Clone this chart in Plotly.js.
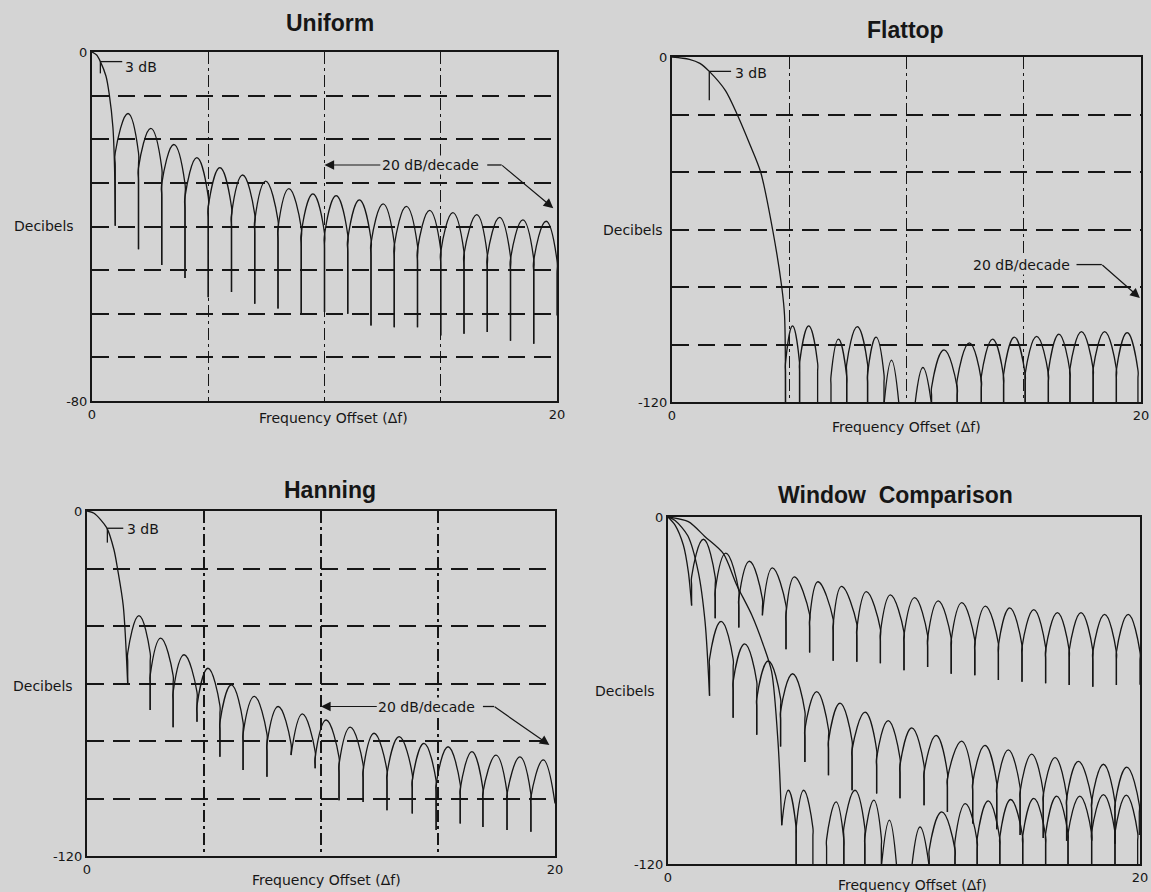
<!DOCTYPE html>
<html><head><meta charset="utf-8">
<script src="https://cdn.plot.ly/plotly-3.0.1.min.js"></script>
<style>html,body{margin:0;padding:0;background:#d4d4d4;}#chart{width:1151px;height:892px;}</style>
</head><body><div id="chart"></div>
<script>
// ---------------- data (x in Δf bins, y in dB) ----------------
const xTickVals = [0, 20];
const xTickText = ['0', '20'];

// Uniform panel
const uniMainX = [0, 0.2, 0.36, 0.6, 0.74, 0.9, 0.97, 1.0];
const uniMainY = [0, -0.7, -2.2, -5.5, -9.6, -17.3, -26.5, -39.8];
const uniNullX = [1, 2, 3, 4, 5, 6, 7, 8, 9, 10, 11, 12, 13, 14, 15, 16, 17, 18, 19, 20];
const uniNullY = [-39.8, -45.2, -48.8, -51.8, -56.2, -55.0, -57.7, -58.8, -60.0, -59.6, -60.0, -62.7, -63.1, -63.1, -65.0, -64.6, -64.2, -66.2, -66.9, -60.4];
const uniPeakX = [1.55, 2.53, 3.52, 4.51, 5.5, 6.48, 7.47, 8.47, 9.5, 10.5, 11.5, 12.52, 13.52, 14.52, 15.52, 16.55, 17.53, 18.53, 19.53];
const uniPeakY = [-14.1, -17.5, -21.2, -24.2, -26.5, -28.2, -29.6, -31.3, -32.5, -32.9, -33.9, -34.8, -35.4, -36.3, -36.8, -37.3, -37.9, -38.5, -38.8];

// Flattop panel
const flatMainX = [0, 0.74, 1.19, 1.59, 2.28, 2.78, 3.3, 3.78, 4.29, 4.68, 4.8, 4.84];
const flatMainY = [0, -0.8, -2.2, -5.0, -11.7, -20, -30, -40, -60, -80, -90, -121];
const flatNullX = [4.84, 5.44, 6.21, 6.78, 7.45, 8.34, 9.04, 9.68, 10.36, 11.07, 12.16, 13.19, 14.14, 15.06, 16.05, 16.97, 17.96, 18.95, 19.87];
const flatNullY = [-121, -121, -121, -121, -121, -121, -121, -121, -121, -121, -121, -121, -121, -121, -121, -121, -121, -121, -121];
const flatPeakX = [5.14, 5.83, 6.5, 7.1, 7.9, 8.7, 9.36, 10.02, 10.7, 11.6, 12.68, 13.67, 14.6, 15.55, 16.5, 17.46, 18.45, 19.41];
const flatPeakY = [-93.5, -93.5, -121, -98.1, -93.8, -97.4, -105.4, -121, -108, -101.9, -99.4, -98.1, -97.4, -97.2, -96.4, -95.5, -95.5, -95.9];

// Hanning panel
const hanMainX = [0, 0.3, 0.84, 1.15, 1.31, 1.55, 1.74];
const hanMainY = [0, -0.8, -5.8, -13.4, -20.3, -33, -60.5];
const hanNullX = [1.74, 2.7, 3.68, 4.7, 5.68, 6.67, 7.69, 8.72, 9.75, 10.77, 11.8, 12.82, 13.9, 14.92, 15.95, 16.92, 17.95, 18.97, 20.0];
const hanNullY = [-60.5, -69.2, -75.2, -73.3, -85.5, -90.1, -92.4, -84.9, -89.5, -100.6, -101.2, -104.1, -105.2, -111, -108.7, -109.9, -111, -111.6, -101.7];
const hanPeakX = [2.22, 3.15, 4.15, 5.17, 6.17, 7.15, 8.17, 9.2, 10.22, 11.25, 12.27, 13.34, 14.4, 15.43, 16.45, 17.48, 18.5, 19.5];
const hanPeakY = [-36.4, -44.2, -50.0, -54.7, -60.5, -64.5, -68.0, -70.6, -72.7, -75.2, -77.3, -78.5, -80.8, -82.0, -83.7, -84.9, -85.5, -86.6];

// Window comparison panel
const cmpUniMainX = [0, 0.3, 0.65, 0.86, 1.0];
const cmpUniMainY = [0, -2.8, -9.7, -18.9, -30.6];
const cmpUniNullX = [1, 2, 3, 4, 5, 6, 7, 8, 9, 10, 11, 12, 13, 14, 15, 16, 17, 18, 19, 20];
const cmpUniNullY = [-30.6, -35.0, -38.2, -34.0, -45.7, -46.9, -49.7, -50.1, -50.6, -53.0, -51.9, -54.2, -54.7, -56.4, -57.0, -57.5, -58.1, -58.7, -58.1, -58.0];
const cmpUniPeakX = [1.5, 2.45, 3.45, 4.42, 5.35, 6.35, 7.35, 8.4, 9.42, 10.45, 11.45, 12.45, 13.45, 14.48, 15.5, 16.5, 17.5, 18.5, 19.5];
const cmpUniPeakY = [-7.7, -12.5, -15.3, -17.6, -20.7, -22.4, -24.0, -25.8, -26.9, -27.9, -29.0, -29.6, -30.8, -31.4, -32.0, -33.1, -33.1, -33.7, -33.7];

const cmpHanMainX = [0, 0.3, 0.84, 1.28, 1.57, 1.76];
const cmpHanMainY = [0, -1.2, -6.5, -18.9, -36.2, -61.8];
const cmpHanNullX = [1.76, 2.76, 3.76, 4.77, 5.8, 6.8, 7.8, 8.84, 9.83, 10.85, 11.84, 12.91, 13.93, 14.92, 15.9, 16.89, 17.95, 18.94, 19.97];
const cmpHanNullY = [-61.8, -69.4, -75.3, -79.4, -84.7, -89.3, -94.5, -95.6, -97.3, -99.7, -102, -106, -108, -110, -111, -112, -112, -113, -110];
const cmpHanPeakX = [2.25, 3.25, 4.25, 5.28, 6.3, 7.29, 8.35, 9.33, 10.33, 11.36, 12.44, 13.43, 14.42, 15.41, 16.4, 17.39, 18.45, 19.44];
const cmpHanPeakY = [-36.1, -43.9, -49.8, -54.2, -60.4, -64.4, -67.5, -70.4, -72.9, -75.5, -77.5, -79.0, -80.5, -82.0, -83.2, -84.5, -85.5, -86.5];

const cmpFlatMainX = [0, 0.86, 1.57, 2.34, 2.91, 3.55, 4.04, 4.39, 4.67, 4.82];
const cmpFlatMainY = [0, -1.6, -6.8, -12.6, -23.5, -33.9, -44.3, -53.5, -78.9, -106.6];
const cmpFlatNullX = [4.82, 5.43, 6.14, 6.72, 7.45, 8.34, 9.04, 9.69, 10.33, 11.07, 12.16, 13.1, 14.06, 15.03, 16.0, 16.95, 17.95, 18.94, 19.9];
const cmpFlatNullY = [-106.6, -121, -121, -121, -121, -121, -121, -121, -121, -121, -121, -121, -121, -121, -121, -121, -121, -121, -121];
const cmpFlatPeakX = [5.1, 5.75, 6.43, 7.12, 7.92, 8.72, 9.38, 10.0, 10.68, 11.6, 12.6, 13.57, 14.52, 15.5, 16.47, 17.45, 18.45, 19.42];
const cmpFlatPeakY = [-94.5, -94.5, -121, -98.5, -94.5, -97.9, -104.8, -121, -107.2, -102, -99.1, -98.2, -97.7, -97.3, -96.5, -96.5, -96.0, -96.2];

// ---------------- drawing ----------------
const ink = '#161616';
const bg = '#d4d4d4';
const FONT = 'DejaVu Sans, sans-serif';

// each side lobe is drawn as a straight stem at its null plus a rounded cap;
// archDb (cap height) and STEM_PAD are drawing styles only
const STEM_PAD = 3;
function lobes(nx, ny, px, py, archDb) {
  const x = [], y = [];
  for (let i = 0; i < px.length; i++) {
    const s = py[i] - archDb;
    x.push(nx[i]); y.push(ny[i]);
    if (s > ny[i] + STEM_PAD + 0.5) { x.push(nx[i], nx[i]); y.push(s - STEM_PAD, s); }
    x.push(px[i]); y.push(py[i]);
    if (s > ny[i + 1] + STEM_PAD + 0.5) { x.push(nx[i + 1], nx[i + 1]); y.push(s, s - STEM_PAD); }
    x.push(nx[i + 1], null); y.push(ny[i + 1], null);
  }
  return {x, y};
}
const traces = [];
function curve(mx, my, nx, ny, px, py, xa, ya, archDb) {
  traces.push({type: 'scatter', mode: 'lines', x: mx, y: my, xaxis: xa, yaxis: ya,
    line: {color: ink, width: 1.3, shape: 'spline', smoothing: 0.8}, hoverinfo: 'skip'});
  const l = lobes(nx, ny, px, py, archDb);
  traces.push({type: 'scatter', mode: 'lines', x: l.x, y: l.y, xaxis: xa, yaxis: ya, connectgaps: false,
    line: {color: ink, width: 1.3, shape: 'spline', smoothing: 1.3, simplify: false}, hoverinfo: 'skip'});
}
curve(uniMainX, uniMainY, uniNullX, uniNullY, uniPeakX, uniPeakY, 'x', 'y', 9);
curve(flatMainX, flatMainY, flatNullX, flatNullY, flatPeakX, flatPeakY, 'x2', 'y2', 13);
curve(hanMainX, hanMainY, hanNullX, hanNullY, hanPeakX, hanPeakY, 'x3', 'y3', 13);
curve(cmpUniMainX, cmpUniMainY, cmpUniNullX, cmpUniNullY, cmpUniPeakX, cmpUniPeakY, 'x4', 'y4', 13);
curve(cmpHanMainX, cmpHanMainY, cmpHanNullX, cmpHanNullY, cmpHanPeakX, cmpHanPeakY, 'x4', 'y4', 13);
curve(cmpFlatMainX, cmpFlatMainY, cmpFlatNullX, cmpFlatNullY, cmpFlatPeakX, cmpFlatPeakY, 'x4', 'y4', 13);

const W = 1151, H = 892;
function xAx(l, r, anchor, grid) {
  const a = {domain: [l / W, r / W], anchor: anchor, range: [0, 20], tickmode: 'array',
    tickvals: xTickVals, ticktext: xTickText, showline: true, mirror: true, linecolor: ink, linewidth: 2,
    showgrid: false, zeroline: false, ticks: '', fixedrange: true,
    tickfont: {family: FONT, size: 13, color: ink}};
  if (grid) a.minor = {tick0: 0, dtick: 5, showgrid: true, gridcolor: ink, gridwidth: 1.3, griddash: '12px,4px,3px,4px', ticks: ''};
  return a;
}
function yAx(t, b, anchor, lo, step) {
  const a = {domain: [1 - b / H, 1 - t / H], anchor: anchor, range: [lo, 0], tickmode: 'array',
    tickvals: [0, lo], ticktext: ['0', String(lo)], showline: true, mirror: true, linecolor: ink, linewidth: 2,
    showgrid: false, zeroline: false, ticks: '', fixedrange: true,
    tickfont: {family: FONT, size: 13, color: ink}};
  if (step) a.minor = {tick0: 0, dtick: step, showgrid: true, gridcolor: ink, gridwidth: 2, griddash: '17px,9px', ticks: ''};
  return a;
}

const ann = [];
const shapes = [];
function title(txt, cx, cy) {
  ann.push({text: txt, xref: 'paper', yref: 'paper', x: cx / W, y: 1 - cy / H, showarrow: false,
    xanchor: 'center', yanchor: 'middle', font: {family: 'Liberation Sans, Arial, sans-serif', size: 23, color: ink, weight: 'bold'}});
}
function ptext(txt, cx, cy) {
  ann.push({text: txt, xref: 'paper', yref: 'paper', x: cx / W, y: 1 - cy / H, showarrow: false,
    xanchor: 'center', yanchor: 'middle', font: {family: FONT, size: 14, color: ink}});
}
function dec(xa, ya, gapPx, axW, yv) {
  ann.push({text: 'Decibels', xref: xa + ' domain', yref: ya, x: -gapPx / axW, y: yv, showarrow: false,
    xanchor: 'right', yanchor: 'middle', font: {family: FONT, size: 14, color: ink}});
}
function line(xa, ya, x0, y0, x1, y1) {
  shapes.push({type: 'line', xref: xa, yref: ya, x0: x0, y0: y0, x1: x1, y1: y1, line: {color: ink, width: 1.3}});
}
function threeDb(xa, ya, px, py, lx, tx, ty, tickY) {
  line(xa, ya, px, py, lx, py);
  line(xa, ya, px, py, px, tickY);
  ann.push({text: '3 dB', xref: xa, yref: ya, x: tx, y: ty, showarrow: false, xanchor: 'left', yanchor: 'middle',
    font: {family: FONT, size: 14, color: ink}});
}
function slopeLabel(xa, ya, tx, ty, leftTip, hx0, hx1, tipX, tipY) {
  const a = {text: '20 dB/decade', xref: xa, yref: ya, font: {family: FONT, size: 14, color: ink}, bgcolor: bg};
  if (leftTip !== null) {
    Object.assign(a, {x: leftTip, y: ty, axref: xa, ayref: ya, ax: tx, ay: ty, showarrow: true,
      arrowhead: 2, arrowsize: 1.6, arrowwidth: 1.2, arrowcolor: ink, standoff: 0});
  } else {
    Object.assign(a, {x: tx, y: ty, showarrow: false});
  }
  ann.push(a);
  line(xa, ya, hx0, ty, hx1, ty);
  ann.push({text: ' ', font: {size: 1}, xref: xa, yref: ya, x: tipX, y: tipY, axref: xa, ayref: ya, ax: hx1, ay: ty,
    showarrow: true, arrowhead: 2, arrowsize: 1.6, arrowwidth: 1.2, arrowcolor: ink, standoff: 0, borderpad: 0});
}

// titles & axis labels
title('Uniform', 330, 23);
title('Flattop', 905, 30);
title('Hanning', 330, 490);
title('Window\u00a0 Comparison', 895, 495);
ptext('Frequency Offset (\u0394f)', 333, 418);
ptext('Frequency Offset (\u0394f)', 906, 427);
ptext('Frequency Offset (\u0394f)', 326, 880);
ptext('Frequency Offset (\u0394f)', 912, 885);
dec('x', 'y', 16, 465, -40);
dec('x2', 'y2', 7, 469, -60);
dec('x3', 'y3', 12, 468, -61);
dec('x4', 'y4', 11, 472, -60);

// markers
threeDb('x', 'y', 0.36, -2.2, 1.3, 1.35, -3.4, -4.9);
threeDb('x2', 'y2', 1.59, -5.0, 2.52, 2.59, -5.5, -15);
threeDb('x3', 'y3', 0.87, -6.0, 1.55, 1.62, -6.3, -11);
slopeLabel('x', 'y', 14.55, -25.9, 10, 17.0, 17.62, 19.84, -35.8);
slopeLabel('x3', 'y3', 14.52, -68, 10, 16.92, 17.4, 19.76, -81.4);
slopeLabel('x2', 'y2', 14.9, -72.2, null, 17.25, 18.33, 19.95, -83.8);

const layout = {
  width: W, height: H, margin: {l: 0, r: 0, t: 0, b: 0}, showlegend: false,
  paper_bgcolor: bg, plot_bgcolor: bg, font: {family: FONT, size: 13, color: ink},
  xaxis: xAx(92, 557, 'y', true), yaxis: yAx(52, 401, 'x', -80, 10),
  xaxis2: xAx(672, 1141, 'y2', true), yaxis2: yAx(57, 402, 'x2', -120, 20),
  xaxis3: xAx(87, 555, 'y3', true), yaxis3: yAx(511, 856, 'x3', -120, 20),
  xaxis4: xAx(668, 1140, 'y4', false), yaxis4: yAx(517, 864, 'x4', -120, 0),
  annotations: ann, shapes: shapes
};
Plotly.newPlot('chart', traces, layout, {staticPlot: true, displayModeBar: false});
</script></body></html>
